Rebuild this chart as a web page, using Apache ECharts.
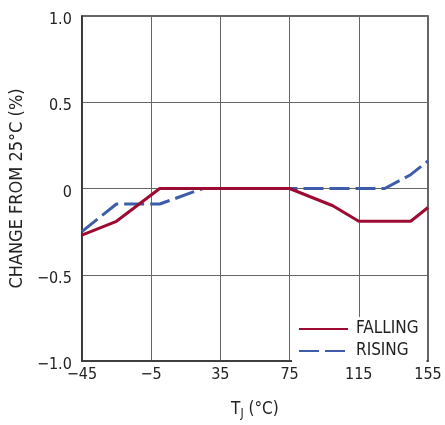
<!DOCTYPE html>
<html>
<head>
<meta charset="utf-8">
<script src="https://cdn.jsdelivr.net/npm/echarts@6/dist/echarts.min.js"></script>
<style>
  html, body { margin: 0; padding: 0; background: #fff; }
  #chart { width: 445px; height: 425px; }
</style>
</head>
<body>
<div id="chart"></div>
<script>
// Junction temperature (°C) and change from 25°C value (%)
const fallingTemps = [-45, -25, 0, 75, 100, 115, 145, 155];
const fallingChange = [-0.27, -0.19, 0, 0, -0.1, -0.19, -0.19, -0.11];
const risingTemps = [-45, -25, 0, 25, 130, 145, 155];
const risingChange = [-0.25, -0.09, -0.09, 0, 0, 0.08, 0.16];
const yTickLabels = { '1': '1.0', '0.5': '0.5', '0': '0', '-0.5': '\u22120.5', '-1': '\u22121.0' };

const FONT = '"DejaVu Sans Condensed", "Liberation Sans", Arial, sans-serif';
const RED = '#9c0c32';
const BLUE = '#3d5caa';
const TEXT = '#222';

const pairs = (xs, ys) => xs.map((x, i) => [x, ys[i]]);
const minus = v => String(v).replace('-', '\u2212');

const chart = echarts.init(document.getElementById('chart'), null, { renderer: 'canvas' });
chart.setOption({
  animation: false,
  backgroundColor: '#fff',
  grid: { left: 76, right: 17, top: 16, bottom: 57, containLabel: false,
          show: true, borderColor: '#333', borderWidth: 1.5, backgroundColor: 'transparent' },
  xAxis: {
    type: 'value', min: -45, max: 155, interval: 40,
    name: 'T{sub|J} (°C)', nameLocation: 'middle', nameGap: 39,
    nameTextStyle: { fontFamily: FONT, fontSize: 17, color: TEXT,
      rich: { sub: { fontFamily: FONT, fontSize: 12, color: TEXT, verticalAlign: 'bottom', padding: [8, 0, 0, 0] } } },
    axisLine: { show: true, onZero: false, lineStyle: { color: '#333', width: 1.5 } },
    axisTick: { show: false },
    axisLabel: { fontFamily: FONT, fontSize: 16, color: TEXT, margin: 6, formatter: minus },
    splitLine: { show: true, lineStyle: { color: '#666', width: 1 } }
  },
  yAxis: {
    type: 'value', min: -1, max: 1, interval: 0.5,
    name: 'CHANGE FROM 25°C (%)', nameLocation: 'middle', nameGap: 54,
    nameTextStyle: { fontFamily: FONT, fontSize: 18, color: TEXT },
    axisLine: { show: true, onZero: false, lineStyle: { color: '#333', width: 1.5 } },
    axisTick: { show: false },
    axisLabel: { fontFamily: FONT, fontSize: 16, color: TEXT, margin: 10,
                 formatter: v => '{t|' + yTickLabels[String(v)] + '}',
                 rich: { t: { fontFamily: FONT, fontSize: 16, color: TEXT, padding: [8, 0, 0, 0] } } },
    splitLine: { show: true, lineStyle: { color: '#666', width: 1 } }
  },
  legend: {
    orient: 'vertical', left: 292, top: 317,
    padding: [3, 8, 3, 6], backgroundColor: '#fff',
    itemWidth: 49, itemHeight: 10, itemGap: 4,
    itemStyle: { opacity: 0 },
    textStyle: { fontFamily: FONT, fontSize: 17, color: TEXT, lineHeight: 18, padding: [0, 0, 0, 3] },
    data: ['FALLING', 'RISING']
  },
  series: [
    {
      name: 'FALLING', type: 'line', showSymbol: false, symbol: 'none',
      data: pairs(fallingTemps, fallingChange),
      lineStyle: { color: RED, width: 3 }, itemStyle: { color: RED }, z: 3
    },
    {
      name: 'RISING', type: 'line', showSymbol: false, symbol: 'none',
      data: pairs(risingTemps, risingChange),
      lineStyle: { color: BLUE, width: 3, type: [20, 6] }, itemStyle: { color: BLUE }, z: 2
    }
  ]
});
</script>
</body>
</html>
